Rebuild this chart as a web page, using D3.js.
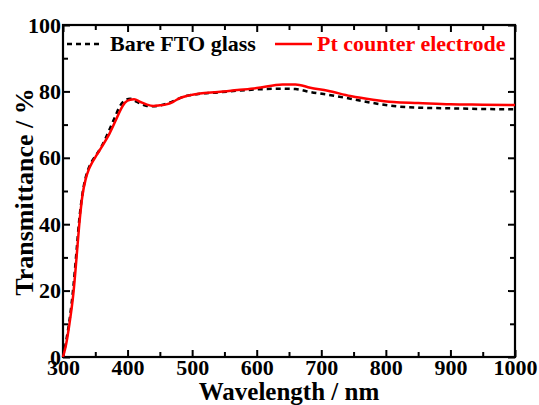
<!DOCTYPE html>
<html>
<head>
<meta charset="utf-8">
<script src="https://cdn.jsdelivr.net/npm/d3@7"></script>
<style>
body{margin:0;background:#fff;}
</style>
</head>
<body>
<div id="chart"></div>
<script>
// wavelength (nm) and transmittance (%)
var wavelength = [300,305,310,316,321,325,330,335,340,345,352,360,372,381,388,396,404,410,420,430,440,450,460,470,481,495,512,540,570,600,640,660,683,710,745,780,812,850,900,950,1000];
var fto        = [0,  5,  11, 21, 32, 41, 49, 54,  57, 59, 61,  63.5,68.5,72.5,75.5,77.3,77.8,77.3,76.3,75.6,75.5,75.8,76.3,77,  78, 78.8,79.3,79.7,80.2,80.6,80.8,80.7,79.8,79,77.8,76.5,75.6,75.1,74.9,74.7,74.6];
var pt         = [0,  4,  10, 19, 30, 39.5,48.5,53.5,56.5,58.5,60.8,63.3,67.3,71, 74,  76.6,77.5,77.6,76.8,76,  75.6,75.8,76.1,76.8,78, 78.8,79.4,79.8,80.4,81,  82.1,82.1,81.1,80.2,78.6,77.5,76.8,76.5,76.1,76,  75.9];
var xTicks = [300,400,500,600,700,800,900,1000];
var yTicks = [0,20,40,60,80,100];
var legendNames = ["Bare FTO glass","Pt counter electrode"];

var FONT = '"Liberation Serif","Times New Roman",serif';

var W = 539, H = 405,
    margin = {left:63, top:25, right:24, bottom:48},
    width = W - margin.left - margin.right,
    height = H - margin.top - margin.bottom;

var x = d3.scaleLinear().domain([300,1000]).range([0,width]);
var y = d3.scaleLinear().domain([0,100]).range([height,0]);

var svg = d3.select("#chart").append("svg")
    .attr("width",W).attr("height",H);

var g = svg.append("g")
    .attr("transform","translate("+margin.left+","+margin.top+")");

var minorX = d3.range(350,1000,100),
    minorY = d3.range(10,100,20);

function styleAxis(a){
    a.select(".domain").remove();
    a.attr("font-family",FONT).attr("font-weight","bold");
    a.selectAll("line").attr("stroke","#000").attr("stroke-width",2);
}

// bottom
var ax = g.append("g").attr("transform","translate(0,"+height+")")
    .call(d3.axisBottom(x).tickValues(xTicks).tickSize(-7).tickPadding(7).tickFormat(d3.format("d")));
styleAxis(ax);
ax.selectAll("text").attr("font-size","22px").attr("fill","#000").attr("dy","0.5em");
g.append("g").attr("transform","translate(0,"+height+")")
    .call(d3.axisBottom(x).tickValues(minorX).tickSize(-5).tickFormat(""))
    .call(styleAxis);
// top
g.append("g").call(d3.axisTop(x).tickValues(xTicks).tickSize(-7).tickFormat("")).call(styleAxis);
g.append("g").call(d3.axisTop(x).tickValues(minorX).tickSize(-5).tickFormat("")).call(styleAxis);
// left
var ay = g.append("g").call(d3.axisLeft(y).tickValues(yTicks).tickSize(-7).tickPadding(2));
styleAxis(ay);
ay.selectAll("text").attr("font-size","22px").attr("fill","#000");
g.append("g").call(d3.axisLeft(y).tickValues(minorY).tickSize(-5).tickFormat("")).call(styleAxis);
// right
g.append("g").attr("transform","translate("+width+",0)")
    .call(d3.axisRight(y).tickValues(yTicks).tickSize(-7).tickFormat("")).call(styleAxis);
g.append("g").attr("transform","translate("+width+",0)")
    .call(d3.axisRight(y).tickValues(minorY).tickSize(-5).tickFormat("")).call(styleAxis);

g.append("rect").attr("width",width).attr("height",height)
    .attr("fill","none").attr("stroke","#000").attr("stroke-width",2.2);

var line = d3.line().curve(d3.curveMonotoneX)
    .x(function(d){return x(d[0]);})
    .y(function(d){return y(d[1]);});

g.append("path")
    .datum(wavelength.map(function(w,i){return [w,fto[i]];}))
    .attr("d",line).attr("fill","none")
    .attr("stroke","#000").attr("stroke-width",2.5).attr("stroke-dasharray","5,4");

g.append("path")
    .datum(wavelength.map(function(w,i){return [w,pt[i]];}))
    .attr("d",line).attr("fill","none")
    .attr("stroke","#ff0000").attr("stroke-width",2.5);

// legend
var leg = g.append("g").attr("transform","translate(0,19)")
    .attr("font-family",FONT).attr("font-weight","bold");
leg.append("line").attr("x1",4).attr("x2",39).attr("y1",0).attr("y2",0)
    .attr("stroke","#000").attr("stroke-width",2.5).attr("stroke-dasharray","5,4");
leg.append("text").attr("x",47).attr("y",7).attr("font-size","22px").attr("fill","#000").text(legendNames[0]);
leg.append("line").attr("x1",212).attr("x2",249).attr("y1",0).attr("y2",0)
    .attr("stroke","#ff0000").attr("stroke-width",2.5);
leg.append("text").attr("x",254).attr("y",7).attr("font-size","22px").attr("fill","#ff0000").text(legendNames[1]);

// axis titles
svg.append("text").attr("x",margin.left+width/2).attr("y",400)
    .attr("font-family",FONT).attr("font-weight","bold")
    .attr("text-anchor","middle").attr("font-size","25px").text("Wavelength / nm");
svg.append("text").attr("transform","translate(33,192) rotate(-90)")
    .attr("font-family",FONT).attr("font-weight","bold")
    .attr("text-anchor","middle").attr("font-size","26px").text("Transmittance / %");
</script>
</body>
</html>
